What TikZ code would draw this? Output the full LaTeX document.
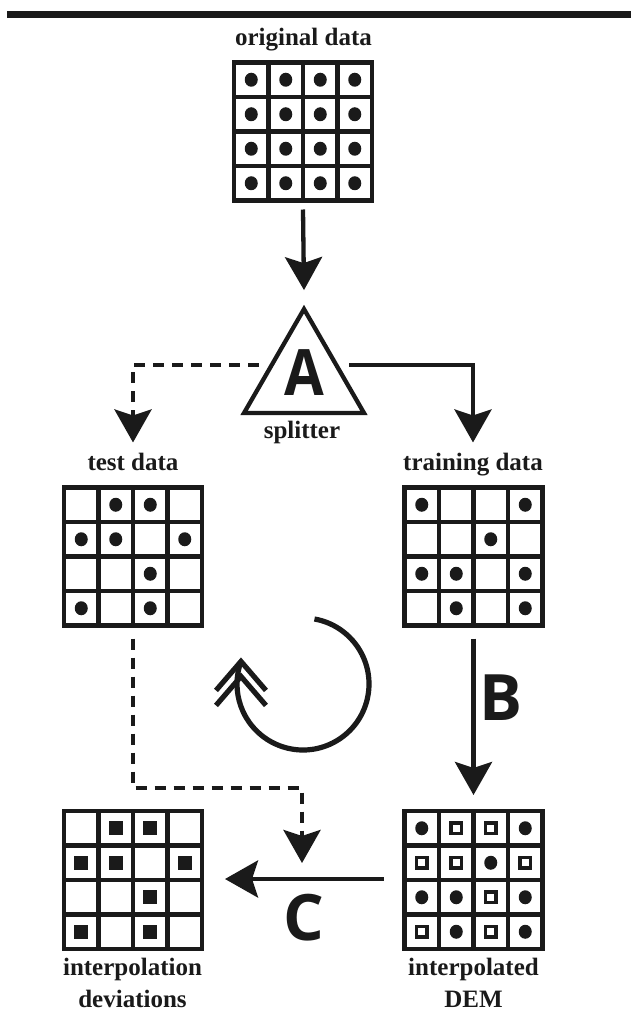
\documentclass[tikz,border=0pt]{standalone}
\usepackage{fontspec}
\setmainfont{Liberation Serif}
\newfontfamily\lettersans{Open Sans}
\usetikzlibrary{arrows.meta,calc,shapes.geometric}
\definecolor{ink}{HTML}{1A1A1A}

% one cell is 138/4 = 34.5 units wide
\newcommand\celldot[3]{\fill[ink] ($(#1.north west)+({(#2-0.5)*34.5},{(#3-0.5)*34.5})$) ellipse[x radius=6.5pt,y radius=7pt];}
\newcommand\cellbox[3]{\fill[ink] ($(#1.north west)+({(#2-0.5)*34.5},{(#3-0.5)*34.5})$) +(-7pt,-7pt) rectangle +(7pt,7pt);}
\newcommand\cellring[3]{\draw[ink,line width=3.6pt] ($(#1.north west)+({(#2-0.5)*34.5},{(#3-0.5)*34.5})$) +(-5.2pt,-5.2pt) rectangle +(5.2pt,5.2pt);}
\newcommand\cellgrid[1]{%
  \foreach \k in {1,2,3}{%
    \draw[gridline] ($(#1.north west)+({\k*34.5},0)$) -- ($(#1.south west)+({\k*34.5},0)$);
    \draw[gridline] ($(#1.north west)+(0,{\k*34.5})$) -- ($(#1.north east)+(0,{\k*34.5})$);
  }}

\tikzset{
  datagrid/.style={draw=ink, line width=4.5pt, minimum width=138pt, minimum height=138pt, inner sep=0pt, outer sep=0pt},
  gridline/.style={ink, line width=4.5pt},
  lbl/.style={font=\fontsize{25}{32}\selectfont\bfseries, text=ink, inner sep=0pt, align=center},
  bigletter/.style={font=\lettersans\bfseries\fontsize{64}{64}\selectfont, text=ink, inner sep=0pt},
  flow/.style={draw=ink, line width=4.3pt, -{Stealth[length=33pt,width=37pt,inset=6pt]}},
  flowdash/.style={flow, dash pattern=on 11pt off 8pt},
  loopline/.style={draw=ink, line width=5.2pt},
}

\begin{document}
\begin{tikzpicture}[x=1pt,y=-1pt]
  \path[use as bounding box, fill=white] (0,0) rectangle (631,1011);
  \fill[ink] (7,11) rectangle (631,18.5);

  % grids
  \node[datagrid] (orig)  at (303,131.5) {};
  \node[datagrid] (test)  at (133,556.5) {};
  \node[datagrid] (train) at (473.5,556.5) {};
  \node[datagrid] (dev)   at (133,880) {};
  \node[datagrid] (dem)   at (473.5,880) {};
  \cellgrid{orig}\cellgrid{test}\cellgrid{train}\cellgrid{dev}\cellgrid{dem}

  \foreach \c in {1,...,4}{\foreach \r in {1,...,4}{\celldot{orig}{\c}{\r}}}
  \foreach \c/\r in {2/1,3/1,1/2,2/2,4/2,3/3,1/4,3/4}{\celldot{test}{\c}{\r}\cellbox{dev}{\c}{\r}\cellring{dem}{\c}{\r}}
  \foreach \c/\r in {1/1,4/1,3/2,1/3,2/3,4/3,2/4,4/4}{\celldot{train}{\c}{\r}\celldot{dem}{\c}{\r}}

  % labels
  \node[lbl, anchor=base] (origlbl) at (303.5,46) {original data};
  \node[lbl, anchor=base] (splitlbl) at (302,438) {splitter};
  \node[lbl, anchor=base] (testlbl) at (133,470) {test data};
  \node[lbl, anchor=base] (trainlbl) at (473,470) {training data};
  \node[lbl, anchor=north] (devlbl) at (132.5,958) {interpolation\\deviations};
  \node[lbl, anchor=north] (demlbl) at (473.5,958) {interpolated\\DEM};

  % splitter
  \node[regular polygon, regular polygon sides=3, draw=ink, line width=4.3pt,
        minimum size=138.6pt, inner sep=0pt, outer sep=0pt] (tri) at (304,378.4) {};
  \node[bigletter] (la) at (304,373) {\scalebox{0.9}[1]{A}};
  \node[bigletter] (lb) at (501,698) {B};
  \node[bigletter] (lc) at (304,918) {C};

  % flow
  \draw[flow] ($(orig.south)+(0,9)$) -- ($(tri.corner 1)+(0,-19)$);
  \draw[flowdash] ($(tri.side 1)+(-15,4)$) -| ($(testlbl.north)+(0,-10)$);
  \draw[flow] ($(tri.side 3)+(15,4)$) -| ($(trainlbl.north)+(0,-10)$);
  \draw[flow] ($(train.south)+(0,13)$) -- ($(dem.north)+(0,-16)$);
  \draw[flow] ($(dem.west)+(-21,-1)$) -- ($(dev.east)+(23,-1)$);
  \coordinate (dtip) at (302,863);
  \draw[flowdash] ($(test.south)+(0,13)$) |- ($(dtip)+(0,-75)$) -- (dtip);

  % iteration loop
  \draw[loopline] (303,684) ++(-80:66) arc[start angle=-80, end angle=200, radius=66] coordinate (cycend);
  \draw[loopline, line join=miter] ($(cycend)+(-25,29)$) -- (cycend) -- ($(cycend)+(25,29)$);
  \draw[loopline, line join=miter] ($(cycend)+(-25,44)$) -- ($(cycend)+(0,15)$) -- ($(cycend)+(25,44)$);
\end{tikzpicture}
\end{document}
